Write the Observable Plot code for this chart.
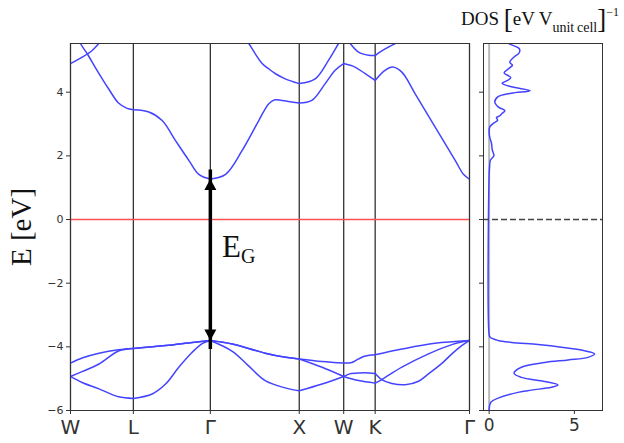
<!DOCTYPE html>
<html><head><meta charset="utf-8">
<script src="https://cdn.jsdelivr.net/npm/d3@7"></script>
<script src="https://cdn.jsdelivr.net/npm/@observablehq/plot@0.6"></script>
<style>
body{margin:0;background:#fff;}
#wrap{position:relative;width:624px;height:443px;overflow:hidden;background:#fff;}
#band{position:absolute;left:0;top:0;}
#dos{position:absolute;left:476px;top:0;}
#ylabel{position:absolute;left:21px;top:227px;transform:translate(-50%,-50%) rotate(-90deg);font-family:"Liberation Serif","DejaVu Serif",serif;font-size:29px;line-height:1;white-space:nowrap;color:#111;}
#eg{position:absolute;left:222px;top:231px;font-family:"Liberation Serif","DejaVu Serif",serif;font-size:31px;line-height:1;white-space:nowrap;color:#111;}
#eg span{font-size:20px;position:relative;top:6px;}
#dostitle{position:absolute;left:461px;top:3px;font-family:"Liberation Serif","DejaVu Serif",serif;font-size:19px;line-height:1;white-space:nowrap;color:#111;}
#dostitle .br{font-size:27px;position:relative;top:3px;}
#dostitle .sub{font-size:14px;position:relative;top:7px;}
#dostitle .sup{font-size:12px;position:relative;top:-9px;}
</style></head><body>
<div id="wrap">
  <div id="band"></div>
  <div id="dos"></div>
  <div id="ylabel">E [eV]</div>
  <div id="eg">E<span>G</span></div>
  <div id="dostitle">DOS <span class="br">[</span>eV&#8201;V<span class="sub">unit&#8201;cell</span><span class="br">]</span><span class="sup">−1</span></div>
</div>
<script>
// High-symmetry path
const kPoints = [0, 0.707, 1.573, 2.573, 3.073, 3.427, 4.488];
const kLabels = ["W", "L", "Γ", "X", "W", "K", "Γ"];
const yTicks = [-6, -4, -2, 0, 2, 4];
const dosTicks = [0, 5];

// Valence bands [k, E]
const bandV1 = [[0,-4.51],[0.13,-4.35],[0.32,-4.20],[0.54,-4.09],[0.707,-4.05],[1.07,-3.96],[1.37,-3.86],[1.573,-3.80],
  [1.82,-3.91],[2.19,-4.20],[2.42,-4.33],[2.573,-4.38],[2.83,-4.46],[3.073,-4.51],[3.165,-4.49],[3.24,-4.38],[3.315,-4.29],
  [3.427,-4.25],[3.73,-4.07],[4.10,-3.89],[4.488,-3.80]];
const bandV2 = [[0,-4.93],[0.13,-4.78],[0.32,-4.54],[0.54,-4.13],[0.707,-4.05],[1.07,-3.96],[1.37,-3.86],[1.573,-3.80],
  [1.82,-3.91],[2.19,-4.20],[2.42,-4.33],[2.573,-4.38],[2.83,-4.64],[3.073,-4.93],[3.14,-4.85],[3.25,-4.82],[3.36,-4.82],
  [3.427,-4.84],[3.50,-5.03],[3.614,-5.15],[3.765,-5.19],[3.915,-5.08],[4.027,-4.85],[4.177,-4.52],[4.29,-4.22],[4.40,-3.96],[4.488,-3.80]];
const bandV3 = [[0,-4.93],[0.13,-5.12],[0.32,-5.32],[0.54,-5.57],[0.707,-5.62],[0.919,-5.48],[1.069,-5.17],[1.218,-4.64],
  [1.369,-4.17],[1.481,-3.90],[1.573,-3.80],[1.82,-4.14],[2.0,-4.59],[2.19,-5.06],[2.415,-5.29],[2.573,-5.38],[2.83,-5.17],
  [3.073,-4.93],[3.24,-5.06],[3.427,-5.14],[3.50,-5.03],[3.727,-4.64],[4.027,-4.22],[4.29,-3.93],[4.488,-3.80]];
// Conduction bands [k, E]
const bandC1 = [[0,6.3],[0.1125,5.53],[0.19,5.2],[0.30,4.68],[0.43,4.10],[0.54,3.66],[0.63,3.50],[0.707,3.45],
  [0.881,3.38],[1.031,3.11],[1.181,2.48],[1.331,1.86],[1.443,1.42],[1.573,1.27],
  [1.744,1.42],[1.931,2.17],[2.118,3.11],[2.231,3.64],[2.30,3.76],[2.377,3.74],[2.573,3.66],
  [2.714,3.74],[2.865,4.27],[2.977,4.69],[3.073,4.90],[3.20,4.79],[3.315,4.58],[3.427,4.37],
  [3.54,4.69],[3.622,4.79],[3.727,4.63],[3.877,3.95],[4.102,2.90],[4.327,1.86],[4.42,1.42],[4.488,1.27]];
const bandC2 = [[1.97,5.70],[2.006,5.53],[2.156,4.90],[2.227,4.74],[2.306,4.58],[2.415,4.42],[2.573,4.27],
  [2.752,4.42],[2.902,5.00],[3.015,5.53],[3.05,5.70]];
const bandC3 = [[3.12,5.62],[3.146,5.53],[3.24,5.26],[3.352,5.16],[3.427,5.15],[3.484,5.27],[3.577,5.42],[3.652,5.53],[3.70,5.62]];
const bandC4 = [[0,4.90],[0.131,5.10],[0.244,5.31],[0.318,5.53],[0.36,5.65]];

// Band gap at Γ
const gapK = 1.573;
const gapEdges = [-3.80, 1.27];

// Density of states
const dosE = [5.62,5.53,5.40,5.33,5.22,5.10,4.94,4.85,4.74,4.61,4.46,4.36,4.28,4.17,4.05,3.97,3.86,3.70,3.54,3.42,
  3.33,3.26,3.20,3.12,3.02,2.91,2.75,2.55,2.39,2.20,2.08,2.00,1.87,1.60,1.40,-3.60,-3.70,-3.80,-3.86,-3.93,
  -4.01,-4.10,-4.22,-4.33,-4.41,-4.49,-4.64,-4.83,-4.96,-5.09,-5.20,-5.27,-5.36,-5.43,-5.61,-5.74,-5.95,-6.05];
const dosD = [1.0,1.15,1.70,1.80,1.74,1.45,1.21,1.37,1.15,0.88,1.27,1.05,0.76,1.30,2.40,1.31,0.53,0.33,0.53,0.92,
  0.75,0.63,0.43,0.50,0.25,0.04,0.0,0.05,0.14,0.18,0.25,0.28,0.08,0.02,0.0,0.0,0.06,0.53,1.31,2.87,
  4.24,5.41,6.19,5.80,4.63,3.26,1.89,1.46,1.89,3.26,4.04,3.65,2.48,1.70,0.53,0.10,0.0,0.0];

// ---- build tables ----
function segments(name, pts) {
  const out = [];
  for (let s = 0; s < kPoints.length - 1; s++) {
    const a = kPoints[s], b = kPoints[s + 1];
    const seg = pts.filter(([k]) => k >= a - 1e-6 && k <= b + 1e-6);
    if (seg.length >= 2) seg.forEach(([k, E]) => out.push({k, E, z: name + "-" + s}));
  }
  return out;
}
const bandData = [].concat(
  segments("V1", bandV1), segments("V2", bandV2), segments("V3", bandV3),
  segments("C1", bandC1), segments("C2", bandC2), segments("C3", bandC3), segments("C4", bandC4));
const dosData = dosE.map((E, i) => ({E, D: dosD[i]}));
const gapRow = [{k: gapK, lo: gapEdges[0], hi: gapEdges[1]}];

const triUp = {draw(ctx) { ctx.moveTo(0, 0); ctx.lineTo(6, 11); ctx.lineTo(-6, 11); ctx.closePath(); }};
const triDown = {draw(ctx) { ctx.moveTo(0, 0); ctx.lineTo(6, -11); ctx.lineTo(-6, -11); ctx.closePath(); }};

const blue = "#4444ff";
const style = {fontFamily: "DejaVu Sans, sans-serif", fontSize: "11px", color: "#333", background: "transparent"};

const bandPlot = Plot.plot({
  width: 480, height: 443,
  marginLeft: 70, marginRight: 11, marginTop: 43, marginBottom: 33,
  x: {domain: [0, 4.488]},
  y: {domain: [-6, 5.53]},
  style,
  marks: [
    Plot.ruleX(kPoints, {stroke: "#333", strokeWidth: 1.3}),
    Plot.ruleY([0], {stroke: "#ff5050", strokeWidth: 1.5}),
    Plot.line(bandData, {x: "k", y: "E", z: "z", stroke: blue, strokeWidth: 1.5, curve: "catmull-rom", clip: true}),
    Plot.ruleX(gapRow, {x: "k", y1: "lo", y2: "hi", stroke: "black", strokeWidth: 3.5, insetTop: 9, insetBottom: 9}),
    Plot.dot(gapRow, {x: "k", y: "hi", symbol: triUp, r: 5, fill: "black", stroke: "none"}),
    Plot.dot(gapRow, {x: "k", y: "lo", symbol: triDown, r: 5, fill: "black", stroke: "none"}),
    Plot.frame({stroke: "#333"}),
    Plot.axisY({ticks: yTicks, tickSize: 4, tickPadding: 3, fontSize: 11, label: null}),
    Plot.axisX({ticks: kPoints, tickFormat: d => kLabels[kPoints.indexOf(d)], tickSize: 4, tickPadding: 5, fontSize: 20, label: null})
  ]
});
document.getElementById("band").appendChild(bandPlot);

const dosPlot = Plot.plot({
  width: 148, height: 443,
  marginLeft: 7, marginRight: 22, marginTop: 43, marginBottom: 33,
  x: {domain: [-0.33, 6.65]},
  y: {domain: [-6, 5.53]},
  style,
  marks: [
    Plot.ruleX([0], {stroke: "#bbb", strokeWidth: 2}),
    Plot.line(dosData, {x: "D", y: "E", stroke: blue, strokeWidth: 1.5, curve: "catmull-rom", clip: true}),
    Plot.ruleY([0], {stroke: "#444", strokeWidth: 1.5, strokeDasharray: "6,3"}),
    Plot.frame({stroke: "#333"}),
    Plot.axisY({ticks: yTicks, tickSize: 4, tickFormat: () => "", label: null}),
    Plot.axisX({ticks: dosTicks, tickFormat: d3.format("d"), tickSize: 4, tickPadding: 4, fontSize: 17, label: null})
  ]
});
document.getElementById("dos").appendChild(dosPlot);
</script>
</body></html>
